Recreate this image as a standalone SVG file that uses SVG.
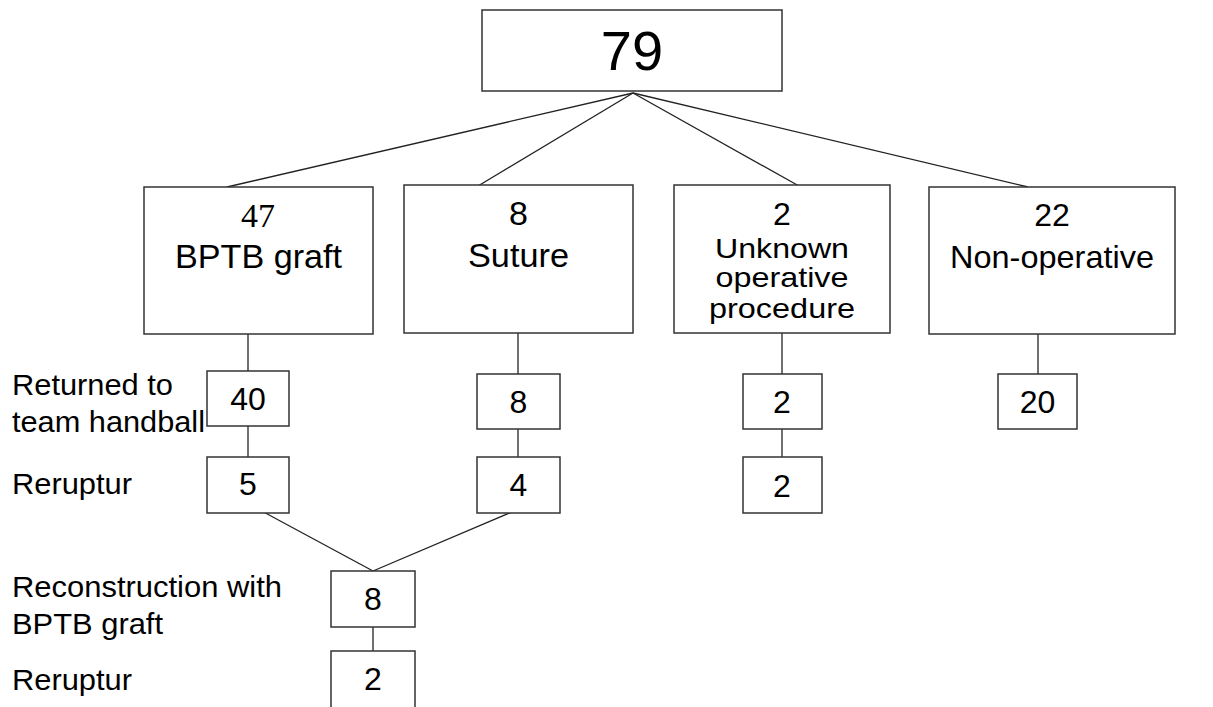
<svg xmlns="http://www.w3.org/2000/svg" width="1213" height="707" viewBox="0 0 1213 707">
<style>
.box{fill:#fff;stroke:#333;stroke-width:1.5}
.ln{stroke:#222;stroke-width:1.3;fill:none}
.t{font-family:"Liberation Sans",Arial,sans-serif;fill:#000;text-anchor:middle}
.s{font-family:"Liberation Serif","Times New Roman",serif;fill:#000;text-anchor:middle}
.l{font-family:"Liberation Sans",Arial,sans-serif;fill:#000;font-size:30px}
.n{font-size:32px}
.b{font-size:34px}
.u{font-size:32px}
.w{font-size:28px}
</style>
<rect width="1213" height="707" fill="#fff"/>
<g id="connectors">
<line class="ln" x1="633" y1="93" x2="227" y2="187"/>
<line class="ln" x1="633" y1="93" x2="478" y2="186"/>
<line class="ln" x1="633" y1="93" x2="799" y2="186"/>
<line class="ln" x1="633" y1="93" x2="1028" y2="187"/>
<line class="ln" x1="248" y1="334" x2="248" y2="371"/>
<line class="ln" x1="248" y1="426" x2="248" y2="457"/>
<line class="ln" x1="518" y1="333" x2="518" y2="374"/>
<line class="ln" x1="518" y1="429" x2="518" y2="457"/>
<line class="ln" x1="782" y1="333" x2="782" y2="374"/>
<line class="ln" x1="782" y1="429" x2="782" y2="457"/>
<line class="ln" x1="1038" y1="334" x2="1038" y2="374"/>
<line class="ln" x1="258" y1="509" x2="373" y2="571"/>
<line class="ln" x1="519" y1="509" x2="373" y2="571"/>
<line class="ln" x1="373" y1="623" x2="373" y2="655"/>
</g>
<g id="n79">
<rect class="box" x="482" y="10" width="300" height="81"/>
<text class="t" x="632" y="70" font-size="56">79</text>
</g>
<g id="nBPTB">
<rect class="box" x="144" y="187" width="229" height="147"/>
<text class="s" x="258" y="227" font-size="34">47</text>
<text class="t b" x="258.5" y="268" textLength="167" lengthAdjust="spacingAndGlyphs">BPTB graft</text>
</g>
<g id="nSuture">
<rect class="box" x="404" y="185" width="229" height="148"/>
<text class="t b" x="518.5" y="225">8</text>
<text class="t b" x="518.5" y="267" textLength="101" lengthAdjust="spacingAndGlyphs">Suture</text>
</g>
<g id="nUnknown">
<rect class="box" x="674" y="185" width="216" height="148"/>
<text class="t u" x="782" y="225">2</text>
<text class="t w" x="782" y="258" textLength="134" lengthAdjust="spacingAndGlyphs">Unknown</text>
<text class="t w" x="782" y="287" textLength="133" lengthAdjust="spacingAndGlyphs">operative</text>
<text class="t w" x="782" y="318" textLength="146" lengthAdjust="spacingAndGlyphs">procedure</text>
</g>
<g id="nNonop">
<rect class="box" x="929" y="187" width="246" height="147"/>
<text class="t u" x="1052" y="226">22</text>
<text class="t u" x="1052" y="268" textLength="204" lengthAdjust="spacingAndGlyphs">Non-operative</text>
</g>
<g id="n40">
<rect class="box" x="207" y="371" width="82" height="55"/>
<text class="t n" x="248" y="410">40</text>
</g>
<g id="n5">
<rect class="box" x="207" y="457" width="82" height="56"/>
<text class="t n" x="248" y="495">5</text>
</g>
<g id="n8s">
<rect class="box" x="477" y="374" width="83" height="55"/>
<text class="t n" x="518.5" y="413">8</text>
</g>
<g id="n4">
<rect class="box" x="477" y="457" width="83" height="56"/>
<text class="t n" x="518.5" y="496">4</text>
</g>
<g id="n2u">
<rect class="box" x="743" y="374" width="79" height="55"/>
<text class="t n" x="782" y="413">2</text>
</g>
<g id="n2u2">
<rect class="box" x="743" y="457" width="79" height="56"/>
<text class="t n" x="782" y="497">2</text>
</g>
<g id="n20">
<rect class="box" x="998" y="374" width="79" height="55"/>
<text class="t n" x="1037.5" y="413">20</text>
</g>
<g id="n8r">
<rect class="box" x="331" y="571" width="84" height="56"/>
<text class="t n" x="373" y="610">8</text>
</g>
<g id="n2r">
<rect class="box" x="331" y="651" width="84" height="60"/>
<text class="t n" x="373" y="690">2</text>
</g>
<g id="labels">
<text class="l" x="12" y="395" textLength="161" lengthAdjust="spacingAndGlyphs">Returned to</text>
<text class="l" x="12" y="432" textLength="193" lengthAdjust="spacingAndGlyphs">team handball</text>
<text class="l" x="12" y="494" textLength="120" lengthAdjust="spacingAndGlyphs">Reruptur</text>
<text class="l" x="12" y="597" textLength="270" lengthAdjust="spacingAndGlyphs">Reconstruction with</text>
<text class="l" x="12" y="634" textLength="151" lengthAdjust="spacingAndGlyphs">BPTB graft</text>
<text class="l" x="12" y="690" textLength="120" lengthAdjust="spacingAndGlyphs">Reruptur</text>
</g>
</svg>
